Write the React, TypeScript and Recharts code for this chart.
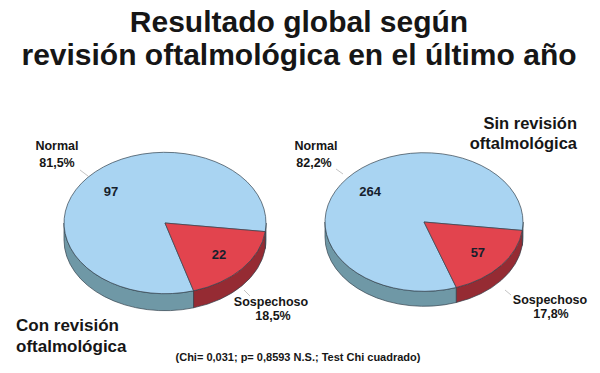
import React from 'react';
import { PieChart, Pie, Cell } from 'recharts';

// counts per group: Normal / Sospechoso
const categories = ['Normal', 'Sospechoso'];
const conRevision = [97, 22];
const sinRevision = [264, 57];

const topColors = ['#a9d4f2', '#e2444e'];
const sideColors = ['#6f98a6', '#952b33'];
const edge = '#34424e';

const RATIO = 0.7; // vertical squash of the 3D disc

const toData = (values: number[]) =>
  categories.map((name, i) => ({ name, value: values[i] }));

const pct = (values: number[], i: number) => {
  const total = values.reduce((a, b) => a + b, 0);
  return ((values[i] / total) * 100).toFixed(1).replace('.', ',') + '%';
};

// draws each slice as an elliptical top face with a front side wall
const make3D = (depth: number) => (p: any) => {
  const { cx, cy, outerRadius, startAngle, endAngle, index, value } = p;
  const rx = outerRadius;
  const ry = outerRadius * RATIO;
  const pt = (deg: number, dy = 0) => {
    const r = (deg * Math.PI) / 180;
    return `${cx + rx * Math.cos(r)},${cy - ry * Math.sin(r) + dy}`;
  };
  const s = Math.min(startAngle, endAngle);
  const e = Math.max(startAngle, endAngle);
  const top = `M${cx},${cy} L${pt(s)} A${rx},${ry} 0 ${e - s > 180 ? 1 : 0} 0 ${pt(e)} Z`;
  const sides: string[] = [];
  for (const k of [-360, 0, 360]) {
    const a = Math.max(s, 180 + k);
    const b = Math.min(e, 360 + k);
    if (b > a) {
      sides.push(
        `M${pt(a)} A${rx},${ry} 0 0 0 ${pt(b)} L${pt(b, depth)} A${rx},${ry} 0 0 1 ${pt(a, depth)} Z`
      );
    }
  }
  const mid = (((p.midAngle ?? (s + e) / 2) as number) * Math.PI) / 180;
  const lx = cx + rx * 0.7 * Math.cos(mid);
  const ly = cy - ry * 0.7 * Math.sin(mid);
  return (
    <g>
      {sides.map((d, j) => (
        <path key={j} d={d} fill={sideColors[index]} stroke={edge} strokeWidth={0.7} />
      ))}
      <path d={top} fill={topColors[index]} stroke={edge} strokeWidth={0.7} />
      <text
        x={lx}
        y={ly}
        textAnchor="middle"
        dominantBaseline="central"
        fontSize={13}
        fontWeight="bold"
        fill="#16202c"
      >
        {value}
      </text>
    </g>
  );
};

const font = '"Liberation Sans", Arial, sans-serif';

export default function App() {
  return (
    <div style={{ position: 'relative', width: 600, height: 373, background: '#fff', fontFamily: font }}>
      <style>{`body{margin:0}`}</style>
      <PieChart width={600} height={373} margin={{ top: 0, right: 0, bottom: 0, left: 0 }}>
        <Pie
          data={toData(conRevision)}
          dataKey="value"
          cx={165}
          cy={223}
          outerRadius={101}
          startAngle={-7}
          endAngle={353}
          stroke="none"
          label={make3D(17)}
          labelLine={false}
          isAnimationActive={false}
        >
          {categories.map((c) => (
            <Cell key={c} fill="transparent" />
          ))}
        </Pie>
        <Pie
          data={toData(sinRevision)}
          dataKey="value"
          cx={424}
          cy={222}
          outerRadius={99}
          startAngle={-7}
          endAngle={353}
          stroke="none"
          label={make3D(15)}
          labelLine={false}
          isAnimationActive={false}
        >
          {categories.map((c) => (
            <Cell key={c} fill="transparent" />
          ))}
        </Pie>
      </PieChart>
      <svg
        width={600}
        height={373}
        style={{ position: 'absolute', left: 0, top: 0, pointerEvents: 'none' }}
        fontFamily={font}
        fontWeight="bold"
        fill="#161616"
      >
        <text x={299} y={32} fontSize={30} textAnchor="middle">Resultado global según</text>
        <text x={299} y={65} fontSize={30} textAnchor="middle">revisión oftalmológica en el último año</text>

        <line x1={80} y1={170} x2={88} y2={176} stroke="#c4c4c4" />
        <line x1={244} y1={290} x2={250} y2={296} stroke="#c4c4c4" />
        <line x1={336} y1={169} x2={343} y2={174} stroke="#c4c4c4" />
        <line x1={505} y1={290} x2={511} y2={295} stroke="#c4c4c4" />

        <text x={57} y={150} fontSize={12.5} textAnchor="middle">{categories[0]}</text>
        <text x={57} y={167} fontSize={12.5} textAnchor="middle">{pct(conRevision, 0)}</text>
        <text x={271} y={306} fontSize={12.5} textAnchor="middle">{categories[1]}</text>
        <text x={273} y={320} fontSize={12.5} textAnchor="middle">{pct(conRevision, 1)}</text>

        <text x={316} y={150} fontSize={12.5} textAnchor="middle">{categories[0]}</text>
        <text x={314} y={167} fontSize={12.5} textAnchor="middle">{pct(sinRevision, 0)}</text>
        <text x={550} y={304} fontSize={12.5} textAnchor="middle">{categories[1]}</text>
        <text x={551} y={318} fontSize={12.5} textAnchor="middle">{pct(sinRevision, 1)}</text>

        <text x={577} y={129} fontSize={16.5} textAnchor="end">Sin revisión</text>
        <text x={577} y={149} fontSize={16.5} textAnchor="end">oftalmológica</text>
        <text x={16} y={331} fontSize={17}>Con revisión</text>
        <text x={16} y={352} fontSize={17}>oftalmológica</text>

        <text x={298} y={361} fontSize={11} textAnchor="middle">
          (Chi= 0,031; p= 0,8593 N.S.; Test Chi cuadrado)
        </text>
      </svg>
    </div>
  );
}
